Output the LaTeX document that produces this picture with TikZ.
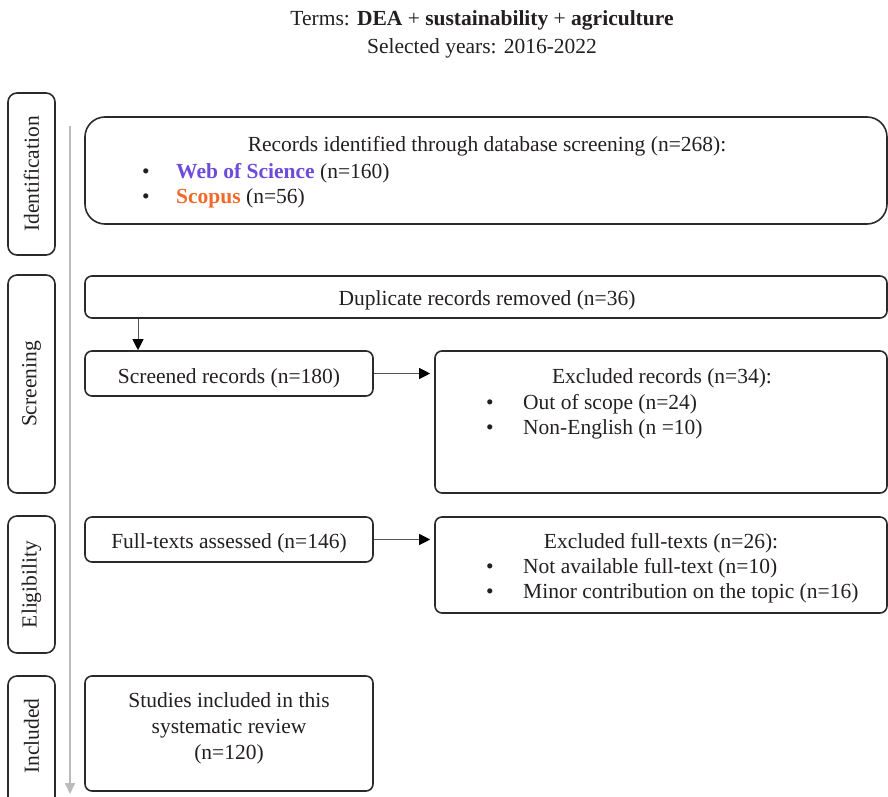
\documentclass[tikz,border=0pt]{standalone}
\usepackage{fontspec}
\setmainfont{Liberation Serif}
\usetikzlibrary{arrows.meta}
\definecolor{txt}{HTML}{231F20}
\definecolor{boxc}{HTML}{2A2A2A}
\definecolor{wos}{HTML}{6E4BD8}
\definecolor{scop}{HTML}{F2682A}
\definecolor{guide}{HTML}{BBBBBB}
\definecolor{arrl}{HTML}{555555}
\begin{document}
\begin{tikzpicture}[x=1pt,y=-1pt,
  font=\fontsize{21.5}{25}\selectfont, text=txt,
  box/.style={draw=boxc, line width=1.6pt, rounded corners=7pt, inner sep=0pt},
  lab/.style={box, rounded corners=9pt},
  tx/.style={inner sep=0pt, anchor=base},
  txw/.style={inner sep=0pt, anchor=base west},
  arr/.style={draw=arrl, line width=1pt, -{Triangle[length=11pt,width=11pt,color=black]}},
  garr/.style={draw=guide, line width=1.6pt, -{Triangle[length=11pt,width=10pt]}}]
\useasboundingbox (0,0) rectangle (888,797);

% title
\node[tx] (t1) at (482,26) {Terms: \textbf{DEA} + \textbf{sustainability} + \textbf{agriculture}};
\node[tx] (t2) at (482,54) {Selected years: 2016-2022};

% stage labels
\node[lab, minimum width=47pt, minimum height=162pt] (lid) at (31.5,174) {};
\node[rotate=90, inner sep=0pt] (lidt) at (lid.center) {Identification};
\node[lab, minimum width=47pt, minimum height=218pt] (lsc) at (31.5,384) {};
\node[rotate=90, inner sep=0pt] (lsct) at (lsc.center) {Screening};
\node[lab, minimum width=47pt, minimum height=137pt] (lel) at (31.5,584.5) {};
\node[rotate=90, inner sep=0pt] (lelt) at (lel.center) {Eligibility};
\node[lab, minimum width=47pt, minimum height=130pt] (lin) at (31.5,741) {};
\node[rotate=90, inner sep=0pt] (lint) at (31.5,736) {Included};

% guide arrow
\coordinate (gtop) at (70,126);
\coordinate (gbot) at (70,794);
\draw[garr] (gtop) -- (gbot);

% identification box
\node[box, rounded corners=20pt, minimum width=802pt, minimum height=107pt] (rec) at (486,170.5) {};
\node[tx] (rect) at (487,151) {Records identified through database screening (n=268):};
\node[tx] (b1) at (146,178) {\textbullet};
\node[txw] (r1) at (176,178) {\textcolor{wos}{\textbf{Web of Science}} (n=160)};
\node[tx] (b2) at (146,203) {\textbullet};
\node[txw] (r2) at (176,203) {\textcolor{scop}{\textbf{Scopus}} (n=56)};

% duplicates
\node[box, minimum width=802pt, minimum height=42pt] (dup) at (486,297) {};
\node[tx] (dupt) at (487,305) {Duplicate records removed (n=36)};

% screened
\node[box, minimum width=288pt, minimum height=45pt] (scr) at (229,373.5) {};
\node[tx] (scrt) at (229,383) {Screened records (n=180)};

% excluded records
\node[box, minimum width=452pt, minimum height=142pt] (exr) at (661,422) {};
\node[tx] (exrt) at (662,383) {Excluded records (n=34):};
\node[tx] (b3) at (490,409) {\textbullet};
\node[txw] (e1) at (523,409) {Out of scope (n=24)};
\node[tx] (b4) at (490,434) {\textbullet};
\node[txw] (e2) at (523,434) {Non-English (n =10)};

% full texts
\node[box, minimum width=288pt, minimum height=45pt] (ful) at (229,539.5) {};
\node[tx] (fult) at (229,548) {Full-texts assessed (n=146)};

% excluded full texts
\node[box, minimum width=452pt, minimum height=96pt] (exf) at (661,565) {};
\node[tx] (exft) at (661,548) {Excluded full-texts (n=26):};
\node[tx] (b5) at (490,573) {\textbullet};
\node[txw] (f1) at (523,573) {Not available full-text (n=10)};
\node[tx] (b6) at (490,598) {\textbullet};
\node[txw] (f2) at (523,598) {Minor contribution on the topic (n=16)};

% included
\node[box, minimum width=288pt, minimum height=115pt] (inc) at (229,733.5) {};
\node[tx] (inc1) at (229,707) {Studies included in this};
\node[tx] (inc2) at (229,733) {systematic review};
\node[tx] (inc3) at (229,759) {(n=120)};

% connectors
\coordinate (dx) at (138,0);
\draw[arr] (dup.south -| dx) -- (scr.north -| dx);
\draw[arr, shorten >=4pt] (scr.east) -- (exr.west |- scr.east);
\draw[arr, shorten >=4pt] (ful.east) -- (exf.west |- ful.east);
\end{tikzpicture}
\end{document}
